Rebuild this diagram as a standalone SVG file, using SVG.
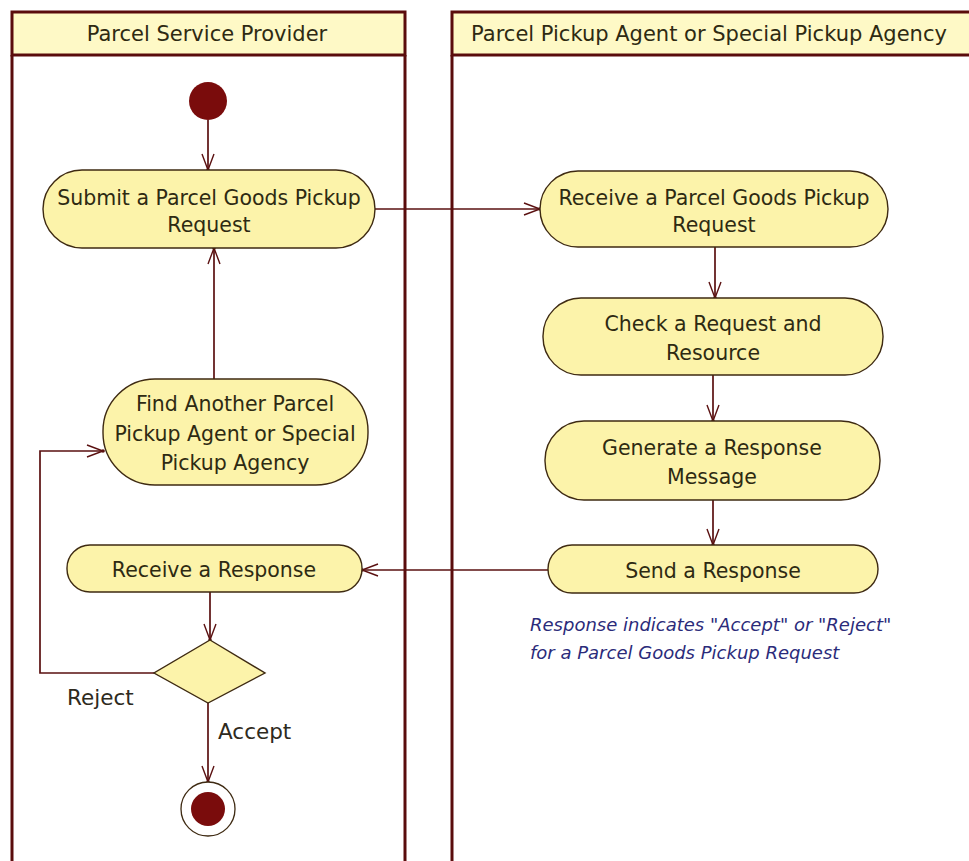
<svg xmlns="http://www.w3.org/2000/svg" width="969" height="861" viewBox="0 0 969 861">
  <style>
    .lane { fill: none; stroke: #5a0c0c; stroke-width: 3; }
    .lanehead { fill: #fef9c6; stroke: #5a0c0c; stroke-width: 3; }
    .title { font-family: "DejaVu Sans", sans-serif; font-size: 21px; fill: #2e2a12; text-anchor: middle; }
    .act { fill: #fcf3aa; stroke: #3e2a12; stroke-width: 1.4; }
    .label { font-family: "DejaVu Sans", sans-serif; font-size: 20.5px; fill: #2e2a12; text-anchor: middle; }
    .guard { font-family: "DejaVu Sans", sans-serif; font-size: 21.5px; fill: #2e2a20; }
    .note { font-family: "DejaVu Sans", sans-serif; font-size: 18px; font-style: italic; fill: #2b2b7a; }
    .flow { fill: none; stroke: #5a1010; stroke-width: 1.7; }
    .dot { fill: #7a0c0c; }
  </style>
  <defs>
    <marker id="arrow" viewBox="0 0 20 20" refX="18" refY="10" markerWidth="20" markerHeight="20" markerUnits="userSpaceOnUse" orient="auto">
      <path d="M2,4 L18,10 L2,16" fill="none" stroke="#5a1010" stroke-width="1.4"/>
      <circle cx="18" cy="10" r="1.8" fill="#5a1010"/>
    </marker>
  </defs>

  <rect width="969" height="861" fill="#ffffff"/>

  <!-- swimlanes -->
  <g id="lane-provider">
    <rect class="lanehead" x="12" y="12" width="393" height="43"/>
    <path class="lane" d="M12,55 V870 M405,55 V870"/>
    <text class="title" x="207" y="40.5">Parcel Service Provider</text>
  </g>
  <g id="lane-agent">
    <rect class="lanehead" x="452" y="12" width="530" height="43"/>
    <path class="lane" d="M452,55 V870"/>
    <text class="title" x="709" y="40.5">Parcel Pickup Agent or Special Pickup Agency</text>
  </g>

  <!-- connectors -->
  <g id="connectors">
    <path class="flow" marker-end="url(#arrow)" d="M208,120 V170"/>
    <path class="flow" marker-end="url(#arrow)" d="M375,209 H540"/>
    <path class="flow" marker-end="url(#arrow)" d="M715,247 V298"/>
    <path class="flow" marker-end="url(#arrow)" d="M713,375 V421"/>
    <path class="flow" marker-end="url(#arrow)" d="M713,500 V545"/>
    <path class="flow" marker-end="url(#arrow)" d="M548,570 H362"/>
    <path class="flow" marker-end="url(#arrow)" d="M214,379 V248"/>
    <path class="flow" marker-end="url(#arrow)" d="M210,592 V640"/>
    <path class="flow" marker-end="url(#arrow)" d="M154,673 H40 V451 H103"/>
    <path class="flow" marker-end="url(#arrow)" d="M208,703 V782"/>
  </g>

  <!-- start -->
  <g id="start">
    <circle class="dot" cx="208" cy="101" r="19"/>
  </g>

  <g id="submit-request">
    <rect class="act" x="43" y="170" width="332" height="78" rx="39" ry="39"/>
    <text class="label" x="209" y="204.5">Submit a Parcel Goods Pickup</text>
    <text class="label" x="209" y="231.5">Request</text>
  </g>

  <g id="receive-request">
    <rect class="act" x="540" y="171" width="348" height="76" rx="38" ry="38"/>
    <text class="label" x="714" y="204.5">Receive a Parcel Goods Pickup</text>
    <text class="label" x="714" y="231.5">Request</text>
  </g>

  <g id="check-request">
    <rect class="act" x="543" y="298" width="340" height="77" rx="38" ry="38"/>
    <text class="label" x="713" y="330.5">Check a Request and</text>
    <text class="label" x="713" y="359.5">Resource</text>
  </g>

  <g id="generate-response">
    <rect class="act" x="545" y="421" width="335" height="79" rx="39" ry="39"/>
    <text class="label" x="712" y="454.5">Generate a Response</text>
    <text class="label" x="712" y="483.5">Message</text>
  </g>

  <g id="send-response">
    <rect class="act" x="548" y="545" width="330" height="48" rx="24" ry="24"/>
    <text class="label" x="713" y="577.5">Send a Response</text>
  </g>

  <g id="response-note">
    <text class="note" x="530" y="631">Response indicates "Accept" or "Reject"</text>
    <text class="note" x="530" y="659">for a Parcel Goods Pickup Request</text>
  </g>

  <g id="find-another">
    <rect class="act" x="103" y="379" width="265" height="106" rx="52" ry="52"/>
    <text class="label" x="235" y="410.5">Find Another Parcel</text>
    <text class="label" x="235" y="440.5">Pickup Agent or Special</text>
    <text class="label" x="235" y="469.5">Pickup Agency</text>
  </g>

  <g id="receive-response">
    <rect class="act" x="67" y="545" width="295" height="47" rx="23" ry="23"/>
    <text class="label" x="214" y="576.5">Receive a Response</text>
  </g>

  <g id="decision">
    <path class="act" d="M210,640 L265,673 L208,703 L154,673 Z"/>
    <text class="guard" x="67" y="704.5">Reject</text>
    <text class="guard" x="218" y="738.5">Accept</text>
  </g>

  <g id="final">
    <circle cx="208" cy="809" r="27" fill="#ffffff" stroke="#3e2a12" stroke-width="1.3"/>
    <circle class="dot" cx="208" cy="809" r="17"/>
  </g>
</svg>
